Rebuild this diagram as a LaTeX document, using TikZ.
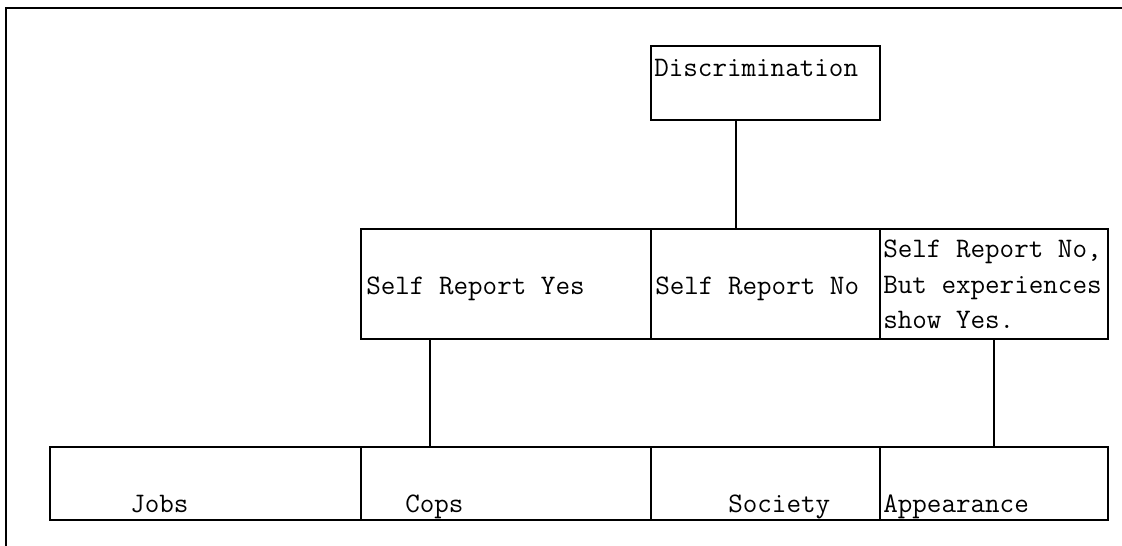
\documentclass[tikz,border=0pt]{standalone}
\usepackage{tikz}

\tikzset{
  catbox/.style={draw, line width=1.1pt, inner sep=0pt, minimum height=#1},
  lbl/.style={anchor=base west, inner sep=0pt, font=\ttfamily\fontsize{21.2}{26}\selectfont}
}

\begin{document}
\begin{tikzpicture}[x=0.75pt,y=0.75pt,yscale=-1,xscale=1]
        \useasboundingbox (0,0) rectangle (1122,546);

        %Frame
        \draw[line width=1.5pt] (6,546) -- (6,8) -- (1122,8) ;

        %Top box
        \node (disc) [catbox=55.5pt, minimum width=171.75pt] at (765.5,83) {};
        \node (discl) [lbl] at (654,76) {Discrimination};

        %Middle row
        \node (sryes) [catbox=82.5pt, minimum width=217.5pt] at (506,284) {};
        \node (srno) [catbox=82.5pt, minimum width=171.75pt] at (765.5,284) {};
        \node (srbut) [catbox=82.5pt, minimum width=171pt] at (994,284) {};
        \node (sryesl) [lbl] at (366,294) {Self Report Yes};
        \node (srnol) [lbl] at (655,294) {Self Report No};
        \node (srbuta) [lbl] at (883,257) {Self Report No,};
        \node (srbutb) [lbl] at (883,293) {But experiences};
        \node (srbutc) [lbl] at (883,328) {show Yes.};

        %Bottom row
        \node (jobs) [catbox=54.75pt, minimum width=233.25pt] at (205.5,483.5) {};
        \node (cops) [catbox=54.75pt, minimum width=217.5pt] at (506,483.5) {};
        \node (soc) [catbox=54.75pt, minimum width=171.75pt] at (765.5,483.5) {};
        \node (appear) [catbox=54.75pt, minimum width=171pt] at (994,483.5) {};
        \node (jobsl) [lbl] at (130,512) {Jobs};
        \node (copsl) [lbl] at (405,512) {Cops};
        \node (socl) [lbl] at (728,512) {Society};
        \node (appearl) [lbl] at (883,512) {Appearance};

        %Connectors
        \coordinate (c1) at (736,0);
        \coordinate (c2) at (430,0);
        \draw[line width=1.1pt] (disc.south -| c1) -- (srno.north -| c1) ;
        \draw[line width=1.1pt] (sryes.south -| c2) -- (cops.north -| c2) ;
        \draw[line width=1.1pt] (srbut) -- (appear) ;
    \end{tikzpicture}
\end{document}
